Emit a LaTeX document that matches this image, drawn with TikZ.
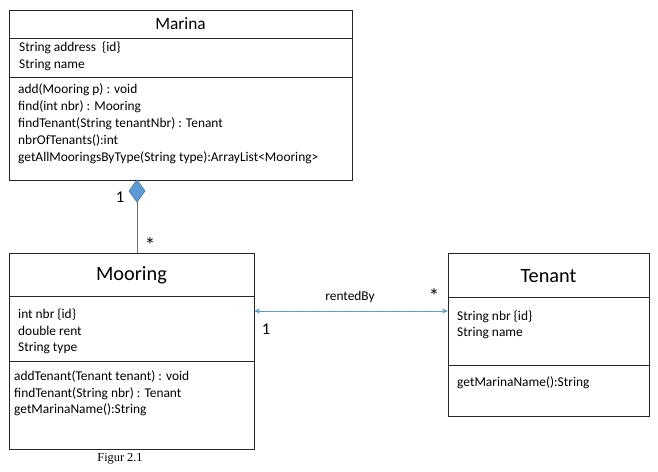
\documentclass[tikz,border=0pt]{standalone}
\usepackage{fontspec}
\setmainfont{Carlito}
\newfontfamily\figfont{Liberation Serif}
\usetikzlibrary{shapes.geometric,arrows.meta}
\definecolor{umlblue}{HTML}{5B9BD5}
\definecolor{umlblueD}{HTML}{41719C}
\tikzset{
  box/.style={draw=black!85, line width=1pt, inner sep=0pt, outer sep=0pt, fill=white},
  sep/.style={draw=black!85, line width=1pt},
  txt/.style={anchor=west, inner sep=0pt, font=\fontsize{13.4}{15}\selectfont},
  ttl/.style={inner sep=0pt, font=\fontsize{17.3}{19}\selectfont},
  bigttl/.style={inner sep=0pt, font=\fontsize{20.3}{22}\selectfont},
  mult/.style={inner sep=0pt, font=\fontsize{16.5}{18}\selectfont},
  star/.style={inner sep=0pt, font=\fontsize{21}{22}\selectfont},
  assoc/.style={draw=umlblue, line width=1pt},
}
\begin{document}
\begin{tikzpicture}[x=1pt,y=-1pt]
\useasboundingbox[fill=white] (0,0) rectangle (658,471);
% Marina
\node[box, minimum width=343, minimum height=170] (marina) at (180.5,95) {};
\draw[sep] (marina.west |- 0,38) -- (marina.east |- 0,38);
\draw[sep] (marina.west |- 0,77) -- (marina.east |- 0,77);
\node[ttl] (marinaT) at (180.5,24) {Marina};
\node[txt] (ma1) at (19,48) {String address\ \ \{id\}};
\node[txt] (ma2) at (19,65) {String name};
\node[txt] (mm1) at (18,90) {add(Mooring p) : void};
\node[txt] (mm2) at (18,107) {find(int nbr) : Mooring};
\node[txt] (mm3) at (18,124) {findTenant(String tenantNbr) : Tenant};
\node[txt] (mm4) at (18,141) {nbrOfTenants():int};
\node[txt] (mm5) at (18,158) {getAllMooringsByType(String type):ArrayList<Mooring>};
% Mooring
\node[box, minimum width=245, minimum height=196] (mooring) at (131.5,351) {};
\draw[sep] (mooring.west |- 0,296) -- (mooring.east |- 0,296);
\draw[sep] (mooring.west |- 0,361) -- (mooring.east |- 0,361);
\node[bigttl] (mooringT) at (131.5,275) {Mooring};
\node[txt] (mo1) at (18,315) {int nbr \{id\}};
\node[txt] (mo2) at (18,331) {double rent};
\node[txt] (mo3) at (18,348) {String type};
\node[txt] (mom1) at (14,377) {addTenant(Tenant tenant) : void};
\node[txt] (mom2) at (14,394) {findTenant(String nbr) : Tenant};
\node[txt] (mom3) at (14,410) {getMarinaName():String};
% Tenant
\node[box, minimum width=201, minimum height=163] (tenant) at (548.5,334.5) {};
\draw[sep] (tenant.west |- 0,297) -- (tenant.east |- 0,297);
\draw[sep] (tenant.west |- 0,365) -- (tenant.east |- 0,365);
\node[bigttl] (tenantT) at (548.5,276) {Tenant};
\node[txt] (te1) at (457,317) {String nbr \{id\}};
\node[txt] (te2) at (457,333) {String name};
\node[txt] (tem1) at (457,383) {getMarinaName():String};
% composition
\node[diamond, draw=umlblueD, fill=umlblue, line width=0.6pt, minimum width=16, minimum height=22, inner sep=0pt, outer sep=0pt] (dia) at (137,191) {};
\draw[assoc, draw=black!55] (dia.south) -- (dia.south |- mooring.north);
\node[mult] (one1) at (120,197) {1};
\node[star] (star1) at (150,245) {*};
% association
\coordinate (aL) at (mooring.east |- 0,311);
\coordinate (aR) at (tenant.west |- 0,311);
\draw[assoc, {Stealth[length=6pt,width=5pt]}-{Stealth[length=6pt,width=5pt]}] (aL) -- (aR);
\node[txt, anchor=center] (rb) at (350,297) {rentedBy};
\node[star] (star2) at (434,296) {*};
\node[mult] (one2) at (266,329) {1};
% caption
\node[inner sep=0pt, font=\figfont\fontsize{12.3}{14}\selectfont] (cap) at (120,459) {Figur 2.1};
\end{tikzpicture}
\end{document}
